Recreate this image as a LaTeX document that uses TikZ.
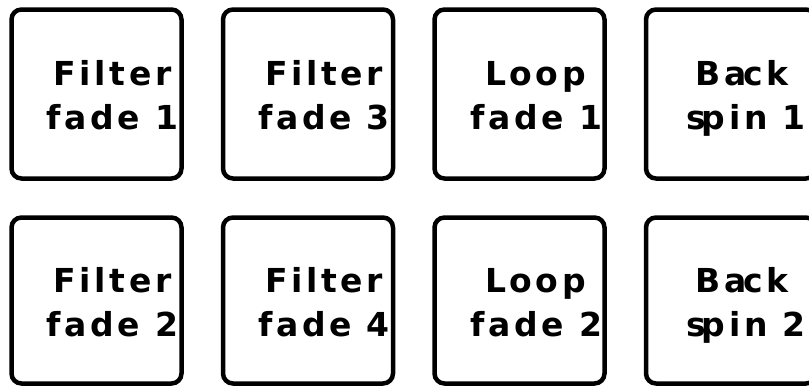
\documentclass[tikz,border=0pt]{standalone}
\usepackage{fontspec}
\newfontfamily\lblfont{DejaVu Sans}[LetterSpace=11]
\begin{document}
\begin{tikzpicture}[x=1pt,y=-1pt,
  pad/.style={draw=black, line width=4.5pt, rounded corners=10pt, fill=white, minimum width=170pt, inner sep=0pt},
  padtop/.style={pad, minimum height=169pt},
  padbot/.style={pad, minimum height=166pt},
  lbl/.style={anchor=base, inner sep=0pt, font=\lblfont\bfseries\fontsize{33}{45}\selectfont}]
\useasboundingbox (0,0) rectangle (809,388);
% boxes
\node[padtop] (p11) at (96.5,94) {};
\node[padtop] (p12) at (308,94) {};
\node[padtop] (p13) at (519.5,94) {};
\node[padtop] (p14) at (731,94) {};
\node[padbot] (p21) at (96.5,300.5) {};
\node[padbot] (p22) at (308,300.5) {};
\node[padbot] (p23) at (519.5,300.5) {};
\node[padbot] (p24) at (731,300.5) {};
% labels, row 1 (baselines 85 and 129)
\node[lbl] (t11a) at ([xshift=16pt,yshift=9pt]p11.center) {Filter};
\node[lbl] (t11b) at ([xshift=16pt,yshift=-35pt]p11.center) {fade 1};
\node[lbl] (t12a) at ([xshift=16pt,yshift=9pt]p12.center) {Filter};
\node[lbl] (t12b) at ([xshift=16pt,yshift=-35pt]p12.center) {fade 3};
\node[lbl] (t13a) at ([xshift=16pt,yshift=9pt]p13.center) {Loop};
\node[lbl] (t13b) at ([xshift=17pt,yshift=-35pt]p13.center) {fade 1};
\node[lbl] (t14a) at ([xshift=11pt,yshift=9pt]p14.center) {Ba\kern-0.12em ck};
\node[lbl] (t14b) at ([xshift=15pt,yshift=-35pt]p14.center) {s\kern-0.12em pin 1};
% labels, row 2 (baselines 292 and 336.5)
\node[lbl] (t21a) at ([xshift=16pt,yshift=8.5pt]p21.center) {Filter};
\node[lbl] (t21b) at ([xshift=16pt,yshift=-36pt]p21.center) {fade 2};
\node[lbl] (t22a) at ([xshift=16pt,yshift=8.5pt]p22.center) {Filter};
\node[lbl] (t22b) at ([xshift=16pt,yshift=-36pt]p22.center) {fade 4};
\node[lbl] (t23a) at ([xshift=16pt,yshift=8.5pt]p23.center) {Loop};
\node[lbl] (t23b) at ([xshift=17pt,yshift=-36pt]p23.center) {fade 2};
\node[lbl] (t24a) at ([xshift=11pt,yshift=8.5pt]p24.center) {Ba\kern-0.12em ck};
\node[lbl] (t24b) at ([xshift=15pt,yshift=-36pt]p24.center) {s\kern-0.12em pin 2};
\end{tikzpicture}
\end{document}
